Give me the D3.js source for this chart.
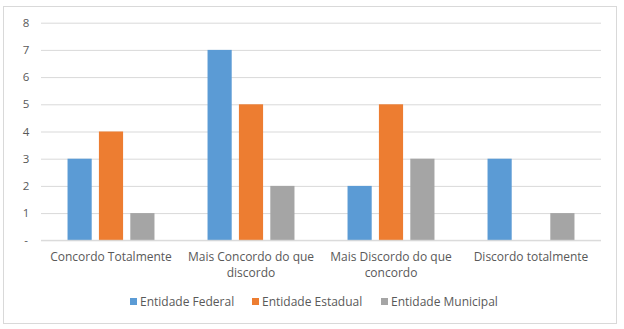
<!DOCTYPE html>
<html>
<head>
<meta charset="utf-8">
<script src="https://cdn.jsdelivr.net/npm/d3@7"></script>
<style>
  body { margin: 0; background: #fff; }
  svg { display: block; }
</style>
</head>
<body>
<div id="chart"></div>
<script>
const categories = ["Concordo Totalmente", "Mais Concordo do que discordo", "Mais Discordo do que concordo", "Discordo totalmente"];
const seriesNames = ["Entidade Federal", "Entidade Estadual", "Entidade Municipal"];
const federal = [3, 7, 2, 3];
const estadual = [4, 5, 5, 0];
const municipal = [1, 2, 3, 1];
const yTicks = [0, 1, 2, 3, 4, 5, 6, 7, 8];
const colors = ["#5B9BD5", "#ED7D31", "#A5A5A5"];

const width = 624, height = 329;
const margin = { top: 22.7, left: 41, right: 23, bottom: 89 };
const font = "Open Sans, sans-serif";

const svg = d3.select("#chart").append("svg")
  .attr("width", width)
  .attr("height", height);

// outer frame
svg.append("rect")
  .attr("x", 3.5).attr("y", 6.5)
  .attr("width", 613).attr("height", 317)
  .attr("fill", "#fff")
  .attr("stroke", "#D9D9D9");

const plotW = width - margin.left - margin.right;
const y0 = 240.3;

const y = d3.scaleLinear().domain([0, 8]).range([y0, margin.top]);

const x0 = d3.scaleBand()
  .domain(categories)
  .range([margin.left, margin.left + plotW])
  .paddingInner(0.379)
  .paddingOuter(0.379 / 2);

const x1 = d3.scaleBand()
  .domain(seriesNames)
  .range([0, x0.bandwidth()])
  .paddingInner(0.23);

// gridlines
const yAxis = d3.axisLeft(y)
  .tickValues(yTicks)
  .tickSize(-plotW)
  .tickFormat(d => d === 0 ? "-" : d);

const gy = svg.append("g")
  .attr("transform", `translate(${margin.left},0)`)
  .call(yAxis);
gy.select(".domain").remove();
gy.selectAll(".tick line").attr("stroke", "#D9D9D9").attr("stroke-width", 1);
gy.selectAll(".tick text")
  .attr("x", -15)
  .attr("fill", "#595959")
  .style("font-family", font)
  .style("font-size", "11.5px")
  .style("text-anchor", "middle");

const rows = categories.map((c, i) => ({
  cat: c,
  values: [federal[i], estadual[i], municipal[i]]
}));

const groups = svg.selectAll("g.cat")
  .data(rows)
  .join("g")
  .attr("class", "cat")
  .attr("transform", d => `translate(${x0(d.cat)},0)`);

groups.selectAll("rect")
  .data(d => d.values.map((v, j) => ({ s: seriesNames[j], v, j })))
  .join("rect")
  .filter(d => d.v > 0)
  .attr("x", d => x1(d.s))
  .attr("y", d => y(d.v))
  .attr("width", x1.bandwidth())
  .attr("height", d => y0 - y(d.v))
  .attr("fill", d => colors[d.j]);

// baseline
svg.append("line")
  .attr("x1", margin.left).attr("x2", margin.left + plotW)
  .attr("y1", y0).attr("y2", y0)
  .attr("stroke", "#D9D9D9");

// category labels, wrapped
function wrap(text, maxW) {
  text.each(function (d) {
    const t = d3.select(this);
    const words = d.split(" ");
    let line = [], lines = [];
    const tmp = t.append("tspan");
    words.forEach(w => {
      line.push(w);
      tmp.text(line.join(" "));
      if (tmp.node().getComputedTextLength() > maxW && line.length > 1) {
        line.pop();
        lines.push(line.join(" "));
        line = [w];
      }
    });
    lines.push(line.join(" "));
    tmp.remove();
    lines.forEach((l, k) => {
      t.append("tspan")
        .attr("x", 0)
        .attr("dy", k === 0 ? 0 : 16)
        .text(l);
    });
  });
}

svg.append("g").selectAll("text")
  .data(categories)
  .join("text")
  .attr("transform", d => `translate(${x0(d) + x0.bandwidth() / 2},261)`)
  .attr("text-anchor", "middle")
  .attr("fill", "#595959")
  .style("font-family", font)
  .style("font-size", "12px")
  .call(wrap, 136);

// legend
const legendX = [130, 252, 381];
const legend = svg.append("g").selectAll("g")
  .data(seriesNames)
  .join("g")
  .attr("transform", (d, i) => `translate(${legendX[i]},302)`);

legend.append("rect")
  .attr("x", 0).attr("y", -4)
  .attr("width", 7).attr("height", 7)
  .attr("fill", (d, i) => colors[i]);

legend.append("text")
  .attr("x", 10).attr("y", 4)
  .attr("fill", "#595959")
  .style("font-family", font)
  .style("font-size", "12px")
  .text(d => d);
</script>
</body>
</html>
